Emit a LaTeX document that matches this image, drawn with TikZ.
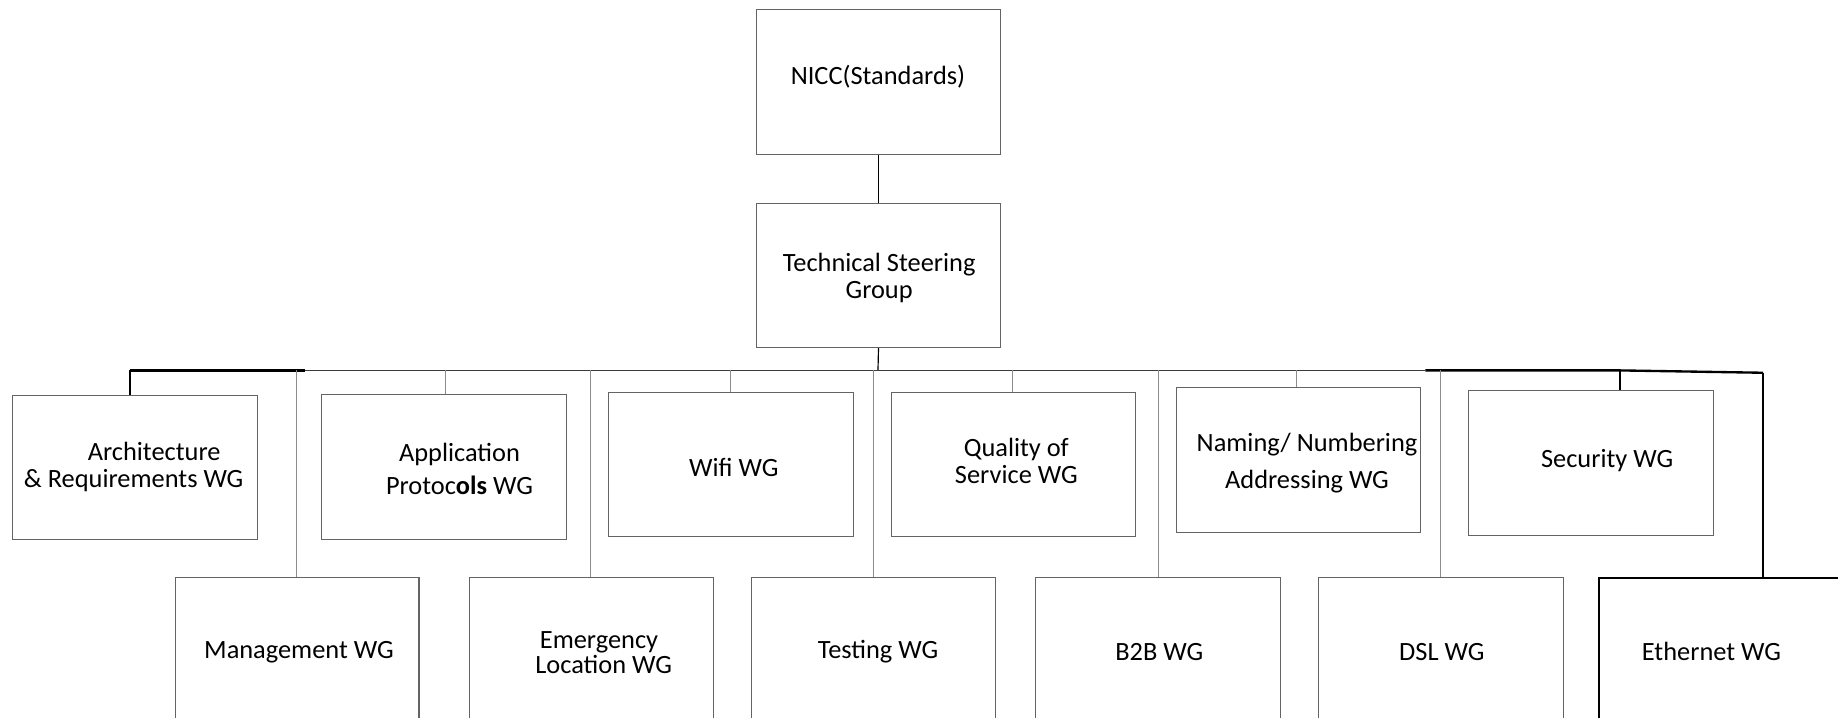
\documentclass[tikz,border=0pt]{standalone}
\usepackage{fontspec}
\setmainfont{Carlito}
\begin{document}
\begin{tikzpicture}[x=1pt,y=-1pt,
  box/.style={draw=boxgray,line width=0.9pt,inner sep=0pt,anchor=north west},
  ebox/.style={draw=black,line width=1.8pt,inner sep=0pt,anchor=north west},
  lbl/.style={inner sep=0pt,align=center,font=\fontsize{22.5}{23}\selectfont},
  thin/.style={draw=linegray,line width=0.9pt},
  thick/.style={draw=black,line width=2pt}]
\definecolor{boxgray}{RGB}{100,100,100}
\definecolor{linegray}{RGB}{140,140,140}
\definecolor{busgray}{RGB}{60,60,60}
\useasboundingbox (0,0) rectangle (1568,612);
\clip (0,0) rectangle (1568,612);
\fill[white] (0,0) rectangle (1568,612);
% top boxes
\node[box,minimum width=208pt,minimum height=123pt] (nicc) at (645,8) {};
\node[lbl] (nicc-t) at (749,65) {NICC(Standards)};
\node[box,minimum width=208pt,minimum height=123pt] (tsg) at (645,173) {};
\node[lbl] (tsg-t) at (750,237) {Technical Steering\\Group};
% first row
\node[box,minimum width=209pt,minimum height=123pt] (arch) at (10,337) {};
\node[lbl] (arch-t) at (114,398) {\hspace*{35pt}Architecture\\\& Requirements WG};
\node[box,minimum width=209pt,minimum height=124pt] (app) at (274,336) {};
\node[lbl,font=\fontsize{22.5}{28}\selectfont] (app-t) at (392,400) {Application\\Proto{c}\textbf{ols} WG};
\node[box,minimum width=209pt,minimum height=123pt] (wifi) at (519,334) {};
\node[lbl] (wifi-t) at (626,399) {Wifi WG};
\node[box,minimum width=208pt,minimum height=123pt] (qos) at (760,334) {};
\node[lbl] (qos-t) at (867,393) {Quality of\\Service WG};
\node[box,minimum width=208pt,minimum height=124pt] (nam) at (1003,330) {};
\node[lbl,font=\fontsize{22.5}{31}\selectfont] (nam-t) at (1115,395) {Naming/ Numbering\\Addressing WG};
\node[box,minimum width=209pt,minimum height=123pt] (sec) at (1252,333) {};
\node[lbl] (sec-t) at (1371,393) {Security WG};
% second row
\node[box,minimum width=208pt,minimum height=200pt] (mgmt) at (149,492) {};
\node[lbl] (mgmt-t) at (255,556) {Management WG};
\node[box,minimum width=208pt,minimum height=200pt] (emer) at (400,492) {};
\node[lbl,font=\fontsize{22.5}{21}\selectfont] (emer-t) at (515,557) {Emergency\hspace*{8pt}\\Location WG};
\node[box,minimum width=208pt,minimum height=200pt] (test) at (641,492) {};
\node[lbl] (test-t) at (749,556) {Testing WG};
\node[box,minimum width=209pt,minimum height=200pt] (b2b) at (883,492) {};
\node[lbl] (b2b-t) at (989,556) {B2B WG};
\node[box,minimum width=209pt,minimum height=200pt] (dsl) at (1124,492) {};
\node[lbl] (dsl-t) at (1230,556) {DSL WG};
\node[ebox,minimum width=260pt,minimum height=200pt] (eth) at (1363,492) {};
\node[lbl] (eth-t) at (1460,556) {Ethernet WG};
% bus coordinates
\coordinate (bA) at (111,316);
\coordinate (bM) at (253,316);
\coordinate (bL) at (260,316);
\coordinate (bP) at (380,316);
\coordinate (bE) at (504,316);
\coordinate (bW) at (623,316);
\coordinate (bT) at (745,316);
\coordinate (bC) at (749,316);
\coordinate (bQ) at (864,316);
\coordinate (bB) at (988,316);
\coordinate (bN) at (1106,316);
\coordinate (bR) at (1216,316);
\coordinate (bD) at (1229,316);
\coordinate (bS) at (1382,316);
\coordinate (bH) at (1504,318);
% connectors
\draw[line width=0.9pt] (nicc) -- (tsg);
\draw[line width=1pt] (tsg.south) -- (bC);
\draw[draw=busgray,line width=1.5pt] (bL) -- (bR);
\draw[thick] (bA) -- (bL);
\draw[thick] (bR) -- (bS) -- (bH);
\draw[thick,line width=1.6pt] (bA) -- (bA |- arch.north);
\draw[thin] (bP) -- (bP |- app.north);
\draw[thin] (bW) -- (bW |- wifi.north);
\draw[thin] (bQ) -- (bQ |- qos.north);
\draw[thin] (bN) -- (bN |- nam.north);
\draw[thick] (bS) -- (bS |- sec.north);
\draw[thin] (bM) -- (bM |- mgmt.north);
\draw[thin] (bE) -- (bE |- emer.north);
\draw[thin] (bT) -- (bT |- test.north);
\draw[thin] (bB) -- (bB |- b2b.north);
\draw[thin] (bD) -- (bD |- dsl.north);
\draw[thick,line width=1.8pt] (bH) -- (bH |- eth.north);
\end{tikzpicture}
\end{document}
